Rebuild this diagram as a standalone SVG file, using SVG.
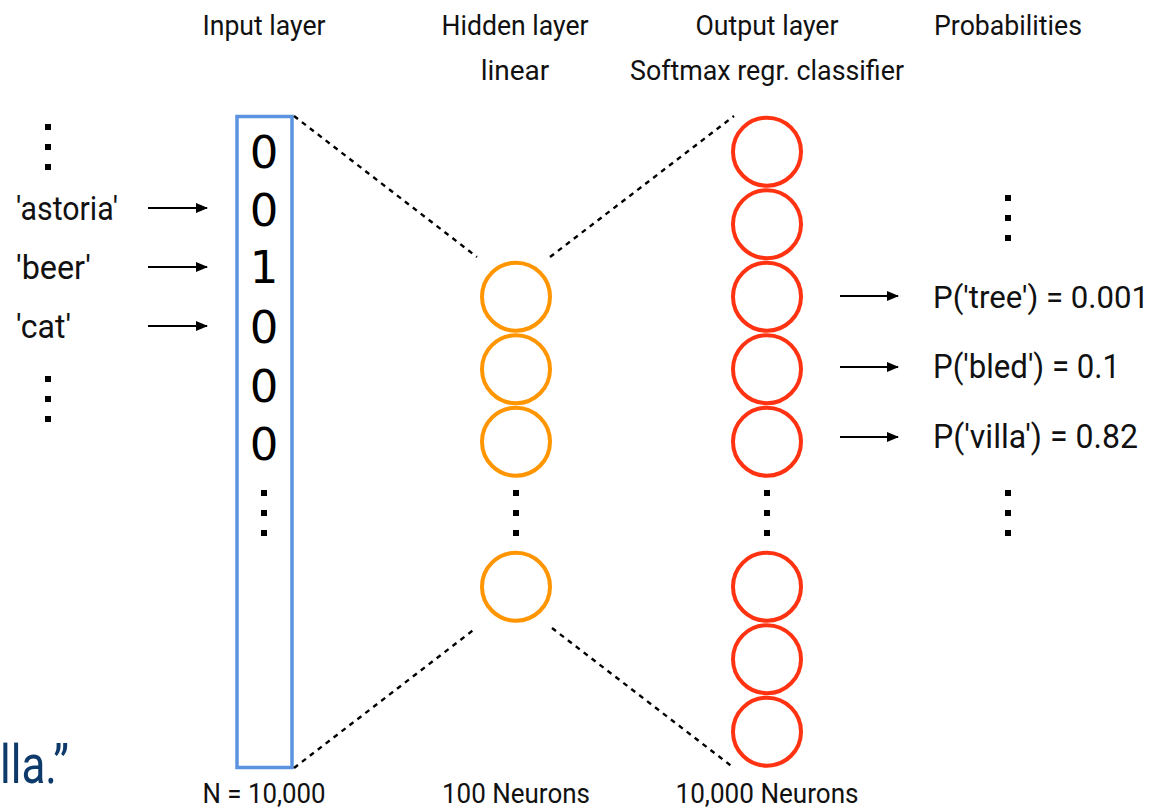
<svg xmlns="http://www.w3.org/2000/svg" width="1158" height="812" viewBox="0 0 1158 812">
<defs>
<style>
.lbl{font-family:Roboto,"Liberation Sans",sans-serif;fill:#111;}
.hdr{font-size:28px;text-anchor:middle;}
.word{font-size:33px;}
.prob{font-size:33px;}
.dig{font-family:"DejaVu Sans",sans-serif;font-size:45px;fill:#000;text-anchor:middle;}
.hid{fill:none;stroke:#ff9500;stroke-width:4;}
.out{fill:none;stroke:#ff3311;stroke-width:4;}
.dash{stroke:#000;stroke-width:2.4;stroke-dasharray:5 5;fill:none;}
.arr{stroke:#000;stroke-width:2;fill:none;}
.dot{fill:#000;}
</style>
<marker id="ah" viewBox="0 0 12 10" refX="11" refY="5" markerWidth="12" markerHeight="10" markerUnits="userSpaceOnUse" orient="auto">
<path d="M0,0 L12,5 L0,10 Z" fill="#000"/>
</marker>
<g id="vdots">
<rect class="dot" x="-3" y="-23" width="6" height="6"/>
<rect class="dot" x="-3" y="-3" width="6" height="6"/>
<rect class="dot" x="-3" y="17" width="6" height="6"/>
</g>
</defs>
<rect width="1158" height="812" fill="#fff"/>

<g id="headers">
<text class="lbl hdr" x="264" y="35" textLength="123" lengthAdjust="spacingAndGlyphs">Input layer</text>
<text class="lbl hdr" x="515" y="35" textLength="147" lengthAdjust="spacingAndGlyphs">Hidden layer</text>
<text class="lbl hdr" x="515" y="80">linear</text>
<text class="lbl hdr" x="767" y="35" textLength="143" lengthAdjust="spacingAndGlyphs">Output layer</text>
<text class="lbl hdr" x="767" y="80" textLength="274" lengthAdjust="spacingAndGlyphs">Softmax regr. classifier</text>
<text class="lbl hdr" x="1008" y="35" textLength="148" lengthAdjust="spacingAndGlyphs">Probabilities</text>
</g>

<g id="footers">
<text class="lbl hdr" x="264" y="803" textLength="123" lengthAdjust="spacingAndGlyphs">N = 10,000</text>
<text class="lbl hdr" x="516" y="803" textLength="148" lengthAdjust="spacingAndGlyphs">100 Neurons</text>
<text class="lbl hdr" x="767" y="803" textLength="183" lengthAdjust="spacingAndGlyphs">10,000 Neurons</text>
</g>

<g id="fragment">
<text x="0" y="783" font-family="Roboto,'Liberation Sans',sans-serif" font-size="54" fill="#0d3a6a" textLength="69" lengthAdjust="spacingAndGlyphs">lla.”</text>
</g>

<g id="input-words">
<use href="#vdots" x="48" y="147"/>
<text class="lbl word" x="16" y="220" textLength="102" lengthAdjust="spacingAndGlyphs">'astoria'</text>
<text class="lbl word" x="16" y="279" textLength="75" lengthAdjust="spacingAndGlyphs">'beer'</text>
<text class="lbl word" x="16" y="338" textLength="55" lengthAdjust="spacingAndGlyphs">'cat'</text>
<use href="#vdots" x="48" y="399"/>
</g>

<g id="input-layer">
<rect x="237" y="116.5" width="55" height="651" fill="none" stroke="#5b93e0" stroke-width="3.5"/>
<text class="dig" x="264" y="168">0</text>
<text class="dig" x="264" y="226">0</text>
<text class="dig" x="264" y="283">1</text>
<text class="dig" x="264" y="343">0</text>
<text class="dig" x="264" y="402">0</text>
<text class="dig" x="264" y="460">0</text>
<use href="#vdots" x="264" y="513"/>
</g>

<g id="hidden-layer">
<circle class="hid" cx="516" cy="296.7" r="34"/>
<circle class="hid" cx="516" cy="369.2" r="34"/>
<circle class="hid" cx="516" cy="441.7" r="34"/>
<use href="#vdots" x="516" y="513"/>
<circle class="hid" cx="516" cy="586.7" r="34"/>
</g>

<g id="output-layer">
<circle class="out" cx="767" cy="151.7" r="34"/>
<circle class="out" cx="767" cy="224.2" r="34"/>
<circle class="out" cx="767" cy="296.7" r="34"/>
<circle class="out" cx="767" cy="369.2" r="34"/>
<circle class="out" cx="767" cy="441.7" r="34"/>
<use href="#vdots" x="767" y="513"/>
<circle class="out" cx="767" cy="586.7" r="34"/>
<circle class="out" cx="767" cy="659.2" r="34"/>
<circle class="out" cx="767" cy="731.7" r="34"/>
</g>

<g id="probabilities">
<use href="#vdots" x="1008" y="218"/>
<text class="lbl prob" x="933" y="308" font-size="31.5" style="font-size:31.5px" textLength="216" lengthAdjust="spacingAndGlyphs">P('tree') = 0.001</text>
<text class="lbl prob" x="933" y="378" textLength="187" lengthAdjust="spacingAndGlyphs">P('bled') = 0.1</text>
<text class="lbl prob" x="933" y="448" textLength="205" lengthAdjust="spacingAndGlyphs">P('villa') = 0.82</text>
<use href="#vdots" x="1008" y="513"/>
</g>

<g id="connectors">
<line class="dash" x1="294" y1="116" x2="477" y2="257"/>
<line class="dash" x1="550" y1="257" x2="734" y2="116"/>
<line class="dash" x1="294" y1="768" x2="476" y2="628"/>
<line class="dash" x1="552" y1="628" x2="734" y2="768"/>
<line class="arr" x1="148" y1="208" x2="207" y2="208" marker-end="url(#ah)"/>
<line class="arr" x1="148" y1="267" x2="207" y2="267" marker-end="url(#ah)"/>
<line class="arr" x1="148" y1="326" x2="207" y2="326" marker-end="url(#ah)"/>
<line class="arr" x1="840" y1="296" x2="898" y2="296" marker-end="url(#ah)"/>
<line class="arr" x1="840" y1="367" x2="898" y2="367" marker-end="url(#ah)"/>
<line class="arr" x1="840" y1="437" x2="898" y2="437" marker-end="url(#ah)"/>
</g>
</svg>
